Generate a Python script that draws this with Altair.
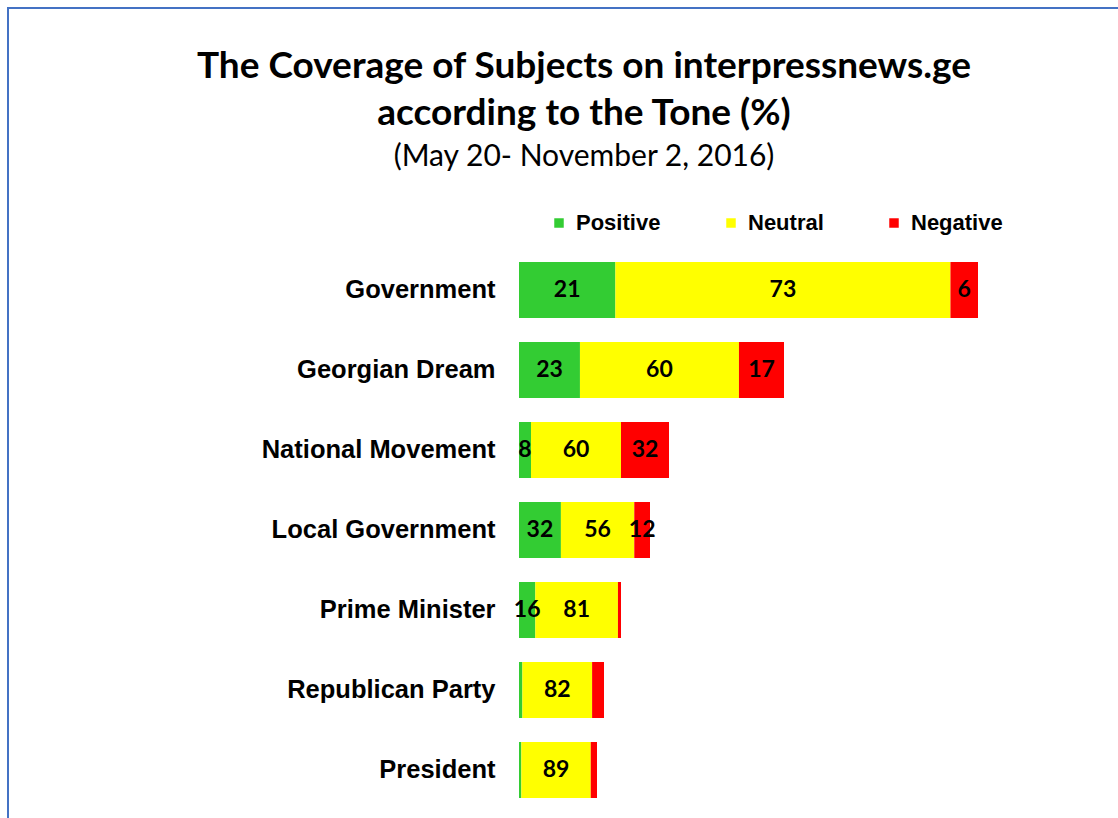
import altair as alt
import pandas as pd

# ---- data ----
categories = ["Government", "Georgian Dream", "National Movement", "Local Government",
              "Prime Minister", "Republican Party", "President"]
tones = ["Positive", "Neutral", "Negative"]
tone_colors = ["#33CC33", "#FFFF00", "#FF0000"]

positive = [21, 23, 8, 32, 16, 4, 3]
neutral = [73, 60, 60, 56, 81, 82, 89]
negative = [6, 17, 32, 12, 3, 14, 8]

# relative volume of coverage (bar length, arbitrary units)
volume = [459, 265, 150, 131, 102, 85, 78]

# which numbers are printed inside the bars in the original
show_positive = [True, True, True, True, True, False, False]
show_neutral = [True, True, True, True, True, True, True]
show_negative = [True, True, True, True, False, False, False]

# ---- build long table ----
rows = []
for i, cat in enumerate(categories):
    start = 0.0
    for tone, vals, shows in zip(tones, [positive, neutral, negative],
                                 [show_positive, show_neutral, show_negative]):
        w = vals[i] * volume[i] / 100.0
        rows.append({
            "category": cat, "tone": tone, "pct": vals[i],
            "start": start, "end": start + w, "mid": start + w / 2,
            "shown": shows[i],
        })
        start += w
df = pd.DataFrame(rows)

y_enc = alt.Y("category:N", sort=categories,
              scale=alt.Scale(paddingInner=0.3, paddingOuter=0.15),
              axis=alt.Axis(title=None, domain=False, ticks=False,
                            labelFont="Liberation Sans", labelFontWeight="bold",
                            labelFontSize=25.5, labelColor="#000000", labelPadding=24,
                            labelLimit=400))
x_scale = alt.Scale(domain=[0, 580], nice=False, zero=True)

frame = alt.Chart(pd.DataFrame({"frame": [1]})).mark_rect(
    fill=None, stroke="#4472C4", strokeWidth=2
).encode(x=alt.value(-511), x2=alt.value(700), y=alt.value(-242), y2=alt.value(700))

bars = alt.Chart(df).mark_bar().encode(
    x=alt.X("start:Q", scale=x_scale, axis=None),
    x2="end:Q",
    y=y_enc,
    color=alt.Color("tone:N", scale=alt.Scale(domain=tones, range=tone_colors),
                    legend=alt.Legend(title=None, orient="none", direction="horizontal",
                                      legendX=29, legendY=-38,
                                      symbolType="square", symbolSize=90,
                                      symbolStrokeWidth=0,
                                      labelFont="Liberation Sans", labelFontWeight="bold",
                                      labelFontSize=22, labelColor="#000000",
                                      labelOffset=6, columnPadding=59)),
)

labels = alt.Chart(df).transform_filter("datum.shown").mark_text(
    font="Lato", fontWeight="bold", fontSize=23, color="#000000",
    align="center", baseline="middle"
).encode(
    x=alt.X("mid:Q", scale=x_scale, axis=None),
    y=alt.Y("category:N", sort=categories),
    text="pct:Q",
)

chart = alt.layer(frame, bars, labels).properties(
    width=580, height=560,
    autosize=alt.AutoSizeParams(type="none"),
    padding={"left": 519, "top": 250, "right": 19, "bottom": 8},
    title=alt.TitleParams(
        text=["The Coverage of Subjects on interpressnews.ge", "according to the Tone (%)"],
        subtitle="(May 20- November 2, 2016)",
        font="Lato", fontWeight="bold", fontSize=37, lineHeight=47, color="#000000",
        subtitleFont="Lato", subtitleFontSize=30, subtitleColor="#000000",
        subtitlePadding=9,
        anchor="middle", frame="group", dx=-225, offset=-166,
    ),
).configure(background="#FFFFFF").configure_view(stroke=None)

chart.save("out.html", embed_options={"renderer": "svg", "actions": False})
